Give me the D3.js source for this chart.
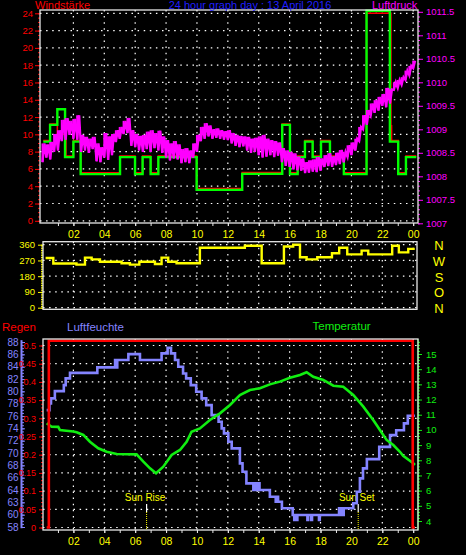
<!DOCTYPE html>
<html><head><meta charset="utf-8">
<script src="https://cdn.jsdelivr.net/npm/d3@7"></script>
<style>
html,body{margin:0;padding:0;background:#000;}
svg{display:block;}
text{font-family:"Liberation Sans",Arial,Helvetica,sans-serif;}
</style>
</head><body>
<svg id="c" width="466" height="555"></svg>
<script>
// ---------------- DATA ----------------
const hourTicks  = [2,4,6,8,10,12,14,16,18,20,22,24];
const hourLabels = ["02","04","06","08","10","12","14","16","18","20","22","00"];

const windTicks = [0,2,4,6,8,10,12,14,16,18,20,22,24];
const pressTicks  = [1007,1007.5,1008,1008.5,1009,1009.5,1010,1010.5,1011,1011.5];
const pressLabels = ["1007","1007.5","1008","1008.5","1009","1009.5","1010","1010.5","1011","1011.5"];

// wind speed (green, step) and average (red, step)
const windHours = [0.05,0.49,0.96,1.46,2.0,2.47,5.02,5.99,6.48,7.0,7.5,9.98,12.93,15.52,16.02,16.52,16.99,17.49,18.03,18.61,19.51,20.98,22.49,23.03,23.53,24.2];
const windSpeed = [9.16,11.1,12.9,7.36,9.16,5.4,7.36,5.4,7.36,5.4,7.36,3.58,5.43,11.1,5.4,7.36,9.16,7.36,9.16,7.36,5.4,24.3,9.16,5.4,7.36,7.36];
const windAvgHours = [0.05,0.49,0.96,1.52,2.0,2.47,5.02,5.99,6.48,7.0,7.5,9.98,12.93,15.52,16.02,16.52,16.99,17.49,18.03,18.61,19.51,20.98,22.56,22.6,23.03,23.53,24.2];
const windAvg      = [9.3,11.2,10.0,7.5,9.3,5.55,7.5,5.55,7.5,5.55,7.5,3.75,5.6,11.2,5.55,7.5,9.3,7.5,9.3,7.5,5.55,24.0,11.0,9.3,5.55,7.5,7.5];

// air pressure: low / high of the noisy trace, every quarter hour from 00:00
const pressLo = [1008.30,1008.40,1008.36,1008.52,1008.55,1008.75,1008.78,1008.88,1008.80,1008.78,
  1008.52,1008.55,1008.50,1008.58,1008.32,1008.30,1008.40,1008.35,1008.45,1008.73,
  1008.80,1008.90,1008.92,1008.65,1008.62,1008.55,1008.52,1008.58,1008.52,1008.60,
  1008.55,1008.50,1008.40,1008.34,1008.38,1008.36,1008.28,1008.30,1008.28,1008.40,
  1008.52,1008.75,1008.80,1008.85,1008.80,1008.82,1008.80,1008.78,1008.77,1008.70,
  1008.65,1008.62,1008.64,1008.55,1008.50,1008.52,1008.45,1008.40,1008.42,1008.45,
  1008.41,1008.44,1008.30,1008.22,1008.20,1008.15,1008.13,1008.12,1008.07,1008.08,
  1008.10,1008.09,1008.12,1008.20,1008.22,1008.20,1008.24,1008.26,1008.30,1008.41,
  1008.45,1008.55,1008.75,1009.00,1009.10,1009.30,1009.35,1009.40,1009.50,1009.47,
  1009.55,1009.84,1009.88,1009.95,1010.05,1010.15,1010.30];
const pressHi = [1008.70,1008.68,1008.73,1008.90,1008.98,1009.20,1009.24,1009.18,1009.22,1009.30,
  1008.88,1008.84,1008.80,1008.84,1008.70,1008.62,1008.92,1008.85,1008.90,1008.98,
  1009.05,1009.18,1009.24,1008.98,1008.90,1008.86,1008.88,1008.95,1008.98,1008.92,
  1008.97,1008.85,1008.77,1008.70,1008.75,1008.68,1008.58,1008.60,1008.55,1008.70,
  1008.88,1009.05,1009.13,1009.08,1009.00,1009.02,1008.98,1008.96,1008.98,1008.92,
  1008.88,1008.86,1008.85,1008.84,1008.80,1008.82,1008.85,1008.88,1008.80,1008.77,
  1008.75,1008.72,1008.60,1008.55,1008.52,1008.49,1008.42,1008.38,1008.30,1008.34,
  1008.36,1008.41,1008.38,1008.45,1008.49,1008.42,1008.50,1008.56,1008.52,1008.66,
  1008.72,1008.80,1009.05,1009.30,1009.41,1009.55,1009.62,1009.69,1009.75,1009.88,
  1009.85,1010.00,1010.05,1010.11,1010.25,1010.35,1010.46];

// wind direction (degrees, step)
const dirTicks = [0,90,180,270,360];
const compassLabels = ["N","O","S","W","N"];
const dirHours  = [0.2,0.7,2.2,2.75,3.18,3.72,5.12,5.66,6.27,7.28,7.71,8.14,8.68,10.19,13.1,14.19,15.63,16.23,16.67,17.1,17.79,18.74,19.21,19.73,20.66,21.09,22.64,23.07,23.68,24.1];
const dirValues = [284,253,246,286,276,263,254,246,263,250,286,263,254,343,354,254,350,360,288,276,288,311,343,305,326,305,354,316,336,336];

// rain / humidity / temperature
const rainTicks  = [0,0.05,0.1,0.15,0.2,0.25,0.3,0.35,0.4,0.45,0.5];
const rainLabels = ["0","0.05","0.1","0.15","0.2","0.25","0.3","0.35","0.4","0.45","0.5"];
const rainHours  = [0.27,0.41,0.41,23.97,23.97,24.11];
const rainValues = [0,0,0.513,0.513,0,0];

const humTicks  = [58,60,62,64,66,68,70,72,74,76,78,80,82,84,86,88];
const humLabels = ["58","60","63","64","66","68","70","72","74","76","78","80","82","84","86","88"];
const humHours  = [0.27,0.45,0.55,0.8,1.38,1.5,1.78,3.55,4.7,4.78,4.84,5.56,6.31,7.71,8.1,8.32,8.58,8.79,9.1,9.3,9.6,9.95,10.3,10.6,10.95,11.4,11.6,11.75,12.03,12.25,12.78,12.95,13.2,13.65,13.7,13.75,13.8,13.85,13.9,14.05,14.72,15.1,15.2,15.25,15.5,16.2,16.3,16.35,16.45,16.5,17.15,17.2,17.4,17.45,17.9,17.95,19.2,19.25,19.35,19.4,19.5,20.12,20.35,20.55,20.75,21.0,21.8,22.5,22.9,23.4,23.65,24.11];
const humValues = [76.96,78.05,78.86,80.04,81.01,82.1,83.0,83.88,85.07,83.88,85.07,86.04,85.07,86.15,87.06,86.15,85.07,83.98,82.9,82.1,81.01,79.93,78.86,77.77,76.15,75.07,74.0,73.18,71.83,70.75,68.32,66.96,65.08,64.0,65.08,64.0,65.08,64.0,65.08,64.0,62.91,62.1,62.91,62.1,61.03,59.94,59.13,59.94,59.13,59.94,59.13,59.94,59.13,59.94,59.13,59.94,61.03,59.94,61.03,59.94,61.03,61.84,63.72,65.89,67.5,69.0,71.0,72.9,73.7,74.8,76.04,76.04];

const tempTicks  = [4,5,6,7,8,9,10,11,12,13,14,15];
const tempHours  = [0.27,0.59,1.02,1.13,1.99,2.21,2.64,3.07,3.61,4.15,4.8,6.09,6.53,6.96,7.35,7.82,8.36,8.9,9.33,9.65,10.19,10.84,11.49,12.14,12.78,13.43,14.08,14.72,15.37,16.02,16.67,17.1,17.53,18.18,18.83,19.47,20.12,20.77,21.41,21.63,22.06,22.28,22.71,23.14,23.35,24.0,24.11];
const tempValues = [10.44,10.21,10.2,9.99,9.9,9.84,9.67,9.22,8.79,8.56,8.41,8.39,7.91,7.47,7.14,7.58,8.35,8.68,9.22,9.88,10.1,10.65,11.09,11.64,12.3,12.63,12.74,13.0,13.18,13.44,13.62,13.8,13.5,13.29,12.91,12.85,12.3,11.53,10.65,10.32,9.67,9.34,9.0,8.56,8.3,7.8,7.69];

const sunLabels = ["Sun Rise","Sun Set"];
const sunHours  = [6.74,20.44];

// ---------------- DRAWING ----------------
const RED="#ff0000", MAG="#ff00ff", GRN="#00ff00", TGRN="#11ee11", YEL="#ffff00", BLU="#8484ff", TBLU="#1f1fff", WHT="#e8e8e8";
const svg = d3.select("#c");
svg.append("rect").attr("width",466).attr("height",555).attr("fill","#000");

const x = d3.scaleLinear().domain([0,24]).range([42.5,413.2]);

function grid(g, xs, ys, x0, x1, y0, y1){
  g.selectAll(null).data(xs).enter().append("line")
    .attr("x1",d=>x(d)).attr("x2",d=>x(d)).attr("y1",y0).attr("y2",y1)
    .attr("stroke","#fff").attr("stroke-width",1.2).attr("stroke-dasharray","1.5,4.6");
  g.selectAll(null).data(ys).enter().append("line")
    .attr("x1",x0).attr("x2",x1).attr("y1",d=>d).attr("y2",d=>d)
    .attr("stroke","#fff").attr("stroke-width",1.2).attr("stroke-dasharray","1.5,4.6");
}
function style(g, tickColor, textColor, size){
  g.select(".domain").remove();
  g.selectAll(".tick line").attr("stroke",tickColor).attr("stroke-width",1);
  g.selectAll(".tick text").attr("fill",textColor).style("font-size",size+"px")
    .style("font-family",'"Liberation Sans",Arial,sans-serif');
}
function frame(x0,y0,x1,y1){
  svg.append("rect").attr("x",x0).attr("y",y0).attr("width",x1-x0).attr("height",y1-y0)
    .attr("fill","none").attr("stroke",WHT).attr("stroke-width",1.3);
}

// ===== TOP PANEL =====
const yW = d3.scaleLinear().domain([0,24]).range([220.8,13.3]);
const yP = d3.scaleLinear().domain([1007,1011.5]).range([223.3,11.8]);
const gTop = svg.append("g");
grid(gTop, hourTicks, windTicks.map(yW), 40, 418, 10, 223);

// left axis (wind)
let ga = svg.append("g").attr("transform","translate(40,0)")
  .call(d3.axisLeft(yW).tickValues(d3.range(0,24.01,0.5)).tickSize(2).tickFormat(""));
style(ga, RED, RED, 9);
ga = svg.append("g").attr("transform","translate(40,0)")
  .call(d3.axisLeft(yW).tickValues(windTicks).tickSize(5).tickPadding(2));
style(ga, RED, RED, 9.5);
// right axis (pressure)
ga = svg.append("g").attr("transform","translate(418,0)")
  .call(d3.axisRight(yP).tickValues(d3.range(1007,1011.51,0.1)).tickSize(2).tickFormat(""));
style(ga, MAG, MAG, 9);
ga = svg.append("g").attr("transform","translate(418,0)")
  .call(d3.axisRight(yP).tickValues(pressTicks).tickSize(5).tickPadding(3).tickFormat((d,i)=>pressLabels[i]));
style(ga, MAG, MAG, 9.5);
// bottom axis
ga = svg.append("g").attr("transform","translate(0,223)")
  .call(d3.axisBottom(x).tickValues(d3.range(1,24.5,1)).tickSize(3).tickFormat(""));
style(ga, WHT, YEL, 10);
ga = svg.append("g").attr("transform","translate(0,223)")
  .call(d3.axisBottom(x).tickValues(hourTicks).tickSize(3).tickPadding(5).tickFormat((d,i)=>hourLabels[i]));
style(ga, WHT, YEL, 10.5);

const stepW = (hs, vs, ys) => d3.line().curve(d3.curveStepAfter).x((d,i)=>x(hs[i])).y((d,i)=>ys(vs[i]))(vs);
svg.append("path").attr("d",stepW(windAvgHours, windAvg, yW)).attr("fill","none").attr("stroke",RED).attr("stroke-width",1.5);
svg.append("path").attr("d",stepW(windHours, windSpeed, yW)).attr("fill","none").attr("stroke",GRN).attr("stroke-width",2.4);

// pressure: a vertical spike for each quarter-hour range plus the zig-zag trace through them
svg.append("g").selectAll("line").data(pressLo).enter().append("line")
  .attr("x1",(d,i)=>x(i*0.25)).attr("x2",(d,i)=>x(i*0.25))
  .attr("y1",d=>yP(d)).attr("y2",(d,i)=>yP(pressHi[i]))
  .attr("stroke",MAG).attr("stroke-width",2);
const pressPts = [];
pressLo.forEach((v,i)=>{ pressPts.push([i*0.25, v]); pressPts.push([i*0.25+0.125, pressHi[i]]); });
svg.append("path").attr("d", d3.line().x(d=>x(d[0])).y(d=>yP(d[1]))(pressPts))
  .attr("fill","none").attr("stroke",MAG).attr("stroke-width",2.3);

frame(40,10,418,223);

svg.append("text").attr("x",35).attr("y",9.3).attr("fill",RED).style("font-size","11px").text("Windstärke");
svg.append("text").attr("x",250).attr("y",9.3).attr("text-anchor","middle").attr("fill",TBLU).style("font-size","11px").text("24 hour graph day : 13 April 2016");
svg.append("text").attr("x",372).attr("y",9.3).attr("fill",MAG).style("font-size","11px").text("Luftdruck");

// ===== MIDDLE PANEL =====
const yD = d3.scaleLinear().domain([0,360]).range([307.7,244.7]);
grid(svg.append("g"), hourTicks, dirTicks.map(yD), 43, 417, 241.7, 309.3);
ga = svg.append("g").attr("transform","translate(43,0)")
  .call(d3.axisLeft(yD).tickValues(d3.range(0,361,10)).tickSize(2).tickFormat(""));
style(ga, YEL, YEL, 9);
ga = svg.append("g").attr("transform","translate(43,0)")
  .call(d3.axisLeft(yD).tickValues(dirTicks).tickSize(5).tickPadding(3));
style(ga, YEL, YEL, 9.5);
svg.append("path").attr("d",stepW(dirHours, dirValues, yD)).attr("fill","none").attr("stroke",YEL).attr("stroke-width",2.4);
frame(43,241.7,417,309.3);
svg.selectAll(null).data(dirTicks).enter().append("text")
  .attr("x",439).attr("y",d=>yD(d)+5.5).attr("text-anchor","middle")
  .attr("fill",YEL).style("font-size","13px").text((d,i)=>compassLabels[i]);

// ===== BOTTOM PANEL =====
const yR = d3.scaleLinear().domain([0,0.5]).range([527.5,345.5]);
const yH = d3.scaleLinear().domain([58,88]).range([527,342]);
const yT = d3.scaleLinear().domain([4,15]).range([521,354]);
grid(svg.append("g"), hourTicks, rainTicks.map(yR), 43, 418, 339, 530);

// humidity axis (far left)
ga = svg.append("g").attr("transform","translate(21.5,0)")
  .call(d3.axisLeft(yH).tickValues(d3.range(58,88.01,0.5)).tickSize(-2.5).tickFormat(""));
style(ga, BLU, BLU, 9);
ga = svg.append("g").attr("transform","translate(21.5,0)")
  .call(d3.axisLeft(yH).tickValues(humTicks).tickSize(-3.5).tickPadding(3).tickFormat((d,i)=>humLabels[i]));
style(ga, BLU, BLU, 10);
svg.append("line").attr("x1",21.5).attr("x2",21.5).attr("y1",yH(88.3)).attr("y2",yH(57.8)).attr("stroke",BLU).attr("stroke-width",2);
// rain axis
ga = svg.append("g").attr("transform","translate(43,0)")
  .call(d3.axisLeft(yR).tickValues(d3.range(0,0.501,0.01)).tickSize(2).tickFormat(""));
style(ga, RED, RED, 9);
ga = svg.append("g").attr("transform","translate(43,0)")
  .call(d3.axisLeft(yR).tickValues(rainTicks).tickSize(4).tickPadding(3).tickFormat((d,i)=>rainLabels[i]));
style(ga, RED, RED, 9);
// temperature axis
ga = svg.append("g").attr("transform","translate(418,0)")
  .call(d3.axisRight(yT).tickValues(d3.range(4,15.9,0.2)).tickSize(2).tickFormat(""));
style(ga, TGRN, TGRN, 9);
ga = svg.append("g").attr("transform","translate(418,0)")
  .call(d3.axisRight(yT).tickValues(tempTicks).tickSize(4).tickPadding(4));
style(ga, TGRN, TGRN, 9.5);
svg.append("line").attr("x1",418).attr("x2",418).attr("y1",339).attr("y2",530).attr("stroke",TGRN).attr("stroke-width",1);
// x axis
ga = svg.append("g").attr("transform","translate(0,530)")
  .call(d3.axisBottom(x).tickValues(d3.range(1,24.5,1)).tickSize(3).tickFormat(""));
style(ga, WHT, YEL, 10);
ga = svg.append("g").attr("transform","translate(0,530)")
  .call(d3.axisBottom(x).tickValues(hourTicks).tickSize(3).tickPadding(5).tickFormat((d,i)=>hourLabels[i]));
style(ga, WHT, YEL, 10.5);

// sun rise / set markers
sunHours.forEach((h,i)=>{
  svg.append("line").attr("x1",x(h)).attr("x2",x(h)).attr("y1",504).attr("y2",512).attr("stroke","#fff").attr("stroke-width",1.2);
  svg.append("line").attr("x1",x(h)).attr("x2",x(h)).attr("y1",512).attr("y2",529).attr("stroke",YEL).attr("stroke-width",1).attr("stroke-dasharray","1,1");
  svg.append("text").attr("x",x(h)-1.5).attr("y",501).attr("text-anchor","middle").attr("fill",YEL).style("font-size","10px").text(sunLabels[i]);
});

const lineXY = (hs, vs, ys) => d3.line().x((d,i)=>x(hs[i])).y((d,i)=>ys(vs[i]))(vs);
svg.append("path").attr("d",stepW(humHours, humValues, yH)).attr("fill","none").attr("stroke",BLU).attr("stroke-width",2.6);
svg.append("path").attr("d",lineXY(tempHours, tempValues, yT)).attr("fill","none").attr("stroke",TGRN).attr("stroke-width",2.6);
svg.append("path").attr("d",lineXY(rainHours, rainValues, yR)).attr("fill","none").attr("stroke",RED).attr("stroke-width",2.6);
frame(43,339,418,530);

svg.append("text").attr("x",2).attr("y",331).attr("fill",RED).style("font-size","11.5px").text("Regen");
svg.append("text").attr("x",67).attr("y",331).attr("fill",BLU).style("font-size","11.5px").text("Luftfeuchte");
svg.append("text").attr("x",312.5).attr("y",330).attr("fill",TGRN).style("font-size","11.5px").text("Temperatur");
</script>
</body></html>
